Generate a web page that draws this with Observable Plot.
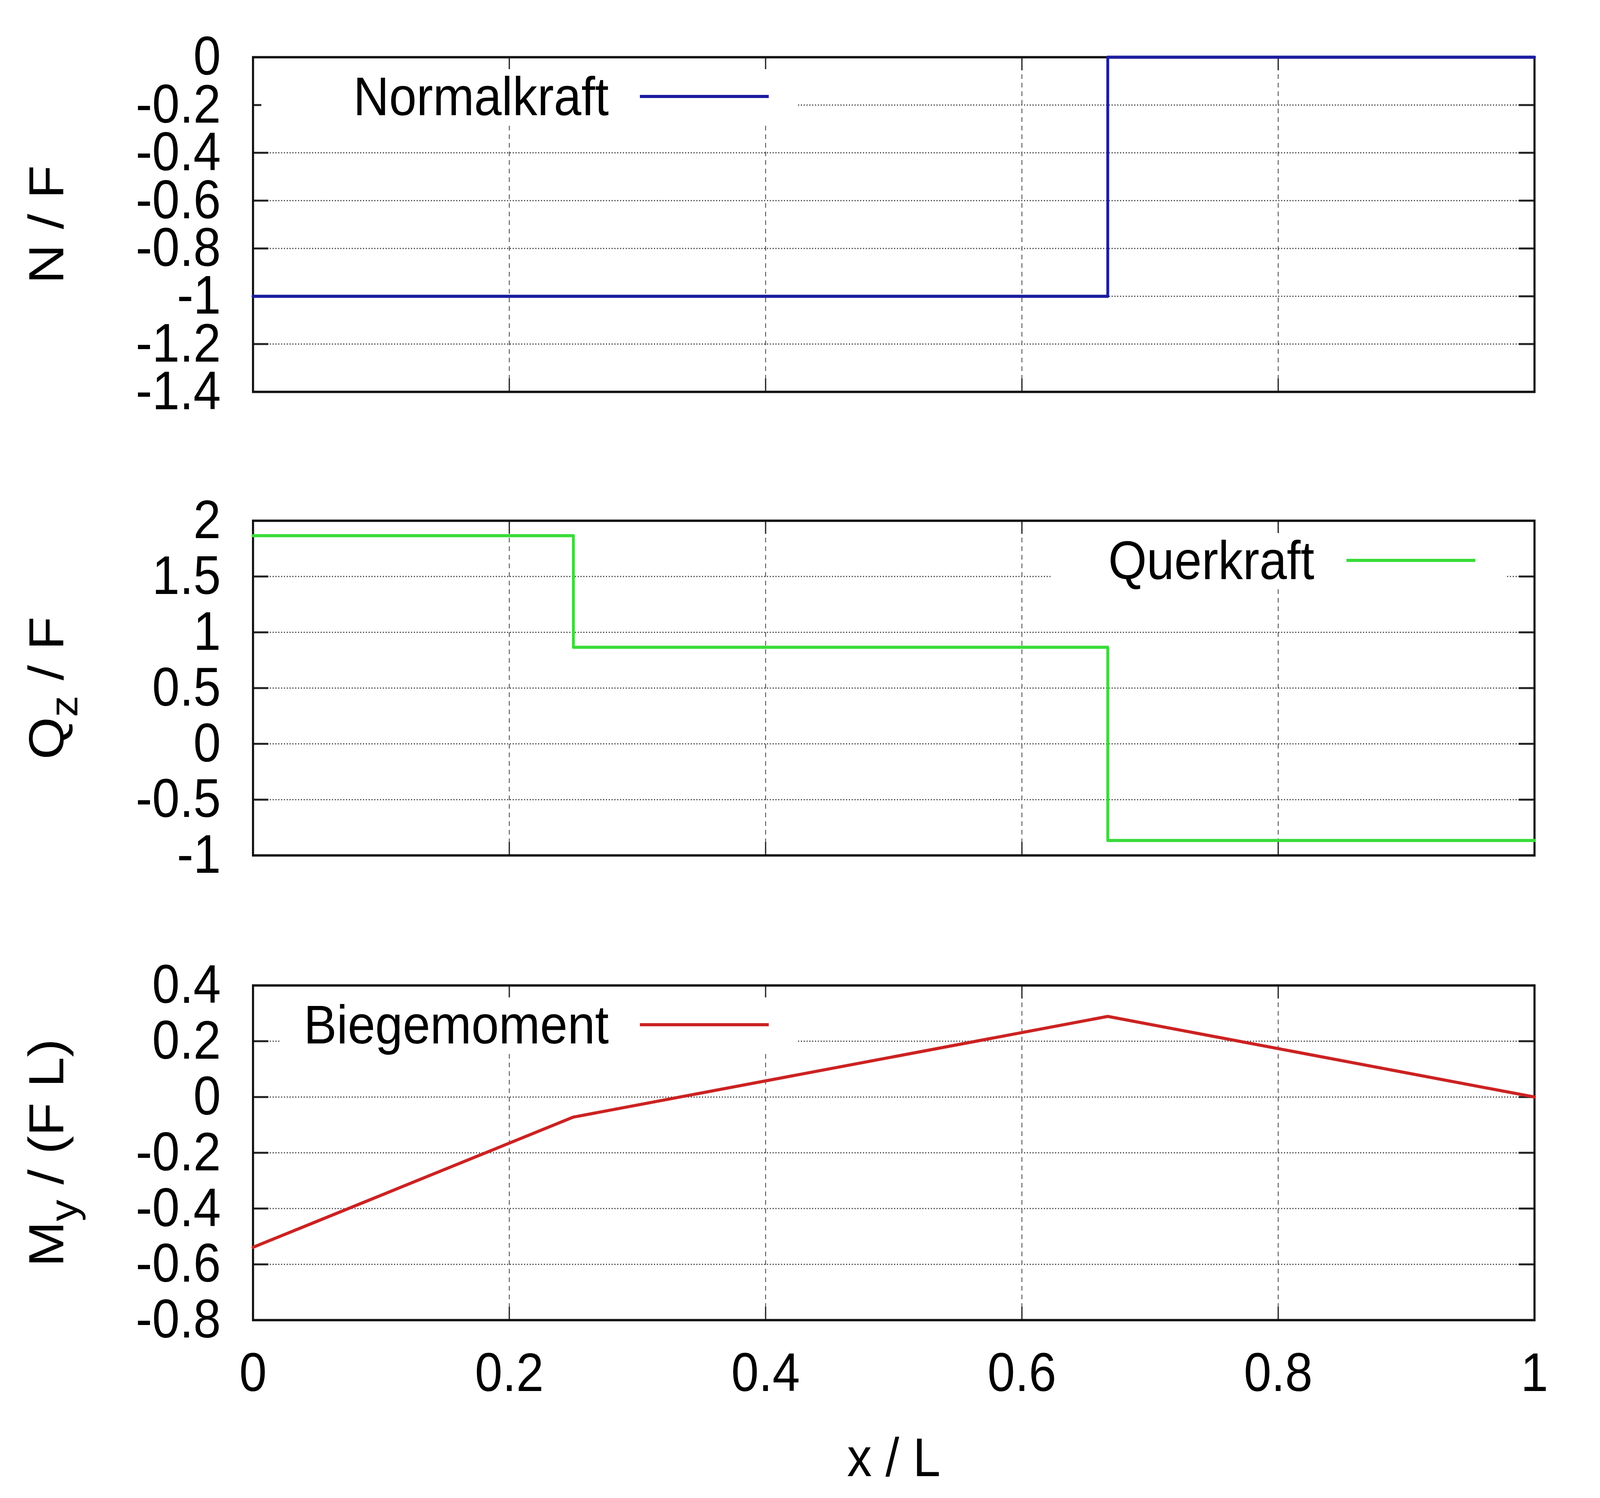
<!DOCTYPE html>
<html><head><meta charset="utf-8">
<script src="https://cdn.jsdelivr.net/npm/d3@7"></script>
<script src="https://cdn.jsdelivr.net/npm/@observablehq/plot@0.6"></script>
<style>
html,body{margin:0;padding:0;background:#fff;overflow:hidden;}
#wrap{position:relative;width:4531px;height:3836px;font-family:"Liberation Sans",Arial,sans-serif;transform-origin:0 0;}
.panel{position:absolute;left:0;}
.legend{position:absolute;background:#fff;height:140px;}
.legend .lt{position:absolute;top:0;font-size:140px;line-height:140px;white-space:nowrap;color:#000;}
.legend .ll{position:absolute;top:66px;height:8px;}
</style></head><body><div id="wrap"></div>
<script>
// ---- data ----
const xTicks = [0, 0.2, 0.4, 0.6, 0.8, 1];
const nX = [0, 0.667, 1];
const nY = [-1, 0, 0];
const nTicks = [0, -0.2, -0.4, -0.6, -0.8, -1, -1.2, -1.4];
const qX = [0, 0.25, 0.667, 1];
const qY = [1.866, 0.866, -0.866, -0.866];
const qTicks = [2, 1.5, 1, 0.5, 0, -0.5, -1];
const mX = [0, 0.25, 0.667, 1];
const mY = [-0.539, -0.072, 0.289, 0];
const mTicks = [0.4, 0.2, 0, -0.2, -0.4, -0.6, -0.8];
const seriesNames = ["Normalkraft", "Querkraft", "Biegemoment"];
const seriesColors = ["#1c1ca0", "#38dc38", "#cc2222"];
const yLabels = [
  {main: "N / F", sub: "", rest: ""},
  {main: "Q", sub: "z", rest: " / F"},
  {main: "M", sub: "y", rest: " / (F L)"}
];
const xLabel = "x / L";

// ---- layout ----
const W = 4531, H = 3836, ML = 716, MR = 186, FH = 857;
const FW = W - ML - MR;
const fmt = d => String(Math.round(d * 100) / 100 + 0);
const wrap = document.getElementById("wrap");
const sx = window.innerWidth / W, sy = window.innerHeight / H;
if (isFinite(sx) && isFinite(sy) && sx > 0 && sy > 0 && (Math.abs(sx - 1) > 0.002 || Math.abs(sy - 1) > 0.002)) {
  wrap.style.transform = `scale(${sx}, ${sy})`;
}

function panel(cfg) {
  const data = cfg.xs.map((x, i) => ({x, y: cfg.ys[i]}));
  const lab = cfg.label;
  const full = lab.main + lab.sub + lab.rest;
  const marks = [
    Plot.gridY(cfg.ticks, {stroke: "#333", strokeOpacity: 1, strokeWidth: 3, strokeDasharray: "3,5"}),
    Plot.gridX(xTicks, {stroke: "#555", strokeOpacity: 1, strokeWidth: 2.5, strokeDasharray: "12,10"}),
    Plot.ruleY(cfg.ticks, {insetRight: FW - 44, strokeWidth: 5, stroke: "#222"}),
    Plot.ruleY(cfg.ticks, {insetLeft: FW - 44, strokeWidth: 5, stroke: "#222"}),
    Plot.ruleX(xTicks, {insetTop: FH - 34, strokeWidth: 3.5, stroke: "#222"}),
    Plot.ruleX(xTicks, {insetBottom: FH - 34, strokeWidth: 3.5, stroke: "#222"}),
    Plot.frame({stroke: "#111", strokeWidth: 6}),
    Plot.line(data, {x: "x", y: "y", curve: cfg.curve, stroke: cfg.color, strokeWidth: 8}),
    Plot.axisY(cfg.ticks, {tickSize: 0, tickPadding: 91, fontSize: 140, label: null, tickFormat: fmt}),
    Plot.text([full], {text: d => d, frameAnchor: "left", textAnchor: "middle", dx: -582, rotate: -90, fontSize: 140, lineAnchor: "middle"})
  ];
  if (cfg.showX) {
    marks.push(Plot.axisX(xTicks, {tickSize: 0, tickPadding: 82, fontSize: 140, label: null, tickFormat: fmt}));
    marks.push(Plot.text([xLabel], {text: d => d, frameAnchor: "bottom", textAnchor: "middle", dy: 355, fontSize: 140, lineAnchor: "middle"}));
  }
  const svg = Plot.plot({
    width: W, height: cfg.height,
    marginLeft: ML, marginRight: MR, marginTop: cfg.mt, marginBottom: cfg.height - cfg.mt - FH,
    style: {fontFamily: "'Liberation Sans', Arial, sans-serif", fontSize: "140px", background: "white", overflow: "visible", maxWidth: "none"},
    x: {domain: [0, 1], axis: cfg.showX ? undefined : null},
    y: {domain: cfg.domain},
    marks
  });
  if (lab.sub) {
    d3.select(svg).selectAll("text").filter(function () { return this.textContent === full; }).each(function () {
      const t = d3.select(this);
      t.text(null);
      t.append("tspan").text(lab.main);
      t.append("tspan").attr("dy", 40).attr("font-size", 110).text(lab.sub);
      t.append("tspan").attr("dy", -40).text(lab.rest);
    });
  }
  const div = document.createElement("div");
  div.className = "panel";
  div.style.top = cfg.top + "px";
  div.appendChild(svg);
  wrap.appendChild(div);
}

panel({xs: nX, ys: nY, ticks: nTicks, domain: [-1.4, 0], color: seriesColors[0], curve: "step-after",
  label: yLabels[0], showX: false, top: 0, height: 1168, mt: 146});
panel({xs: qX, ys: qY, ticks: qTicks, domain: [-1, 2], color: seriesColors[1], curve: "step-after",
  label: yLabels[1], showX: false, top: 1168, height: 1190, mt: 165});
panel({xs: mX, ys: mY, ticks: mTicks, domain: [-0.8, 0.4], color: seriesColors[2], curve: "linear",
  label: yLabels[2], showX: true, top: 2358, height: 1478, mt: 165});

// ---- legends (HTML overlays) ----
function legend(name, color, boxL, boxR, cy, textEnd, lineL, lineR) {
  const box = document.createElement("div");
  box.className = "legend";
  box.style.left = boxL + "px";
  box.style.width = (boxR - boxL) + "px";
  box.style.top = (cy - 70) + "px";
  const t = document.createElement("span");
  t.className = "lt";
  t.textContent = name;
  t.style.right = (boxR - textEnd) + "px";
  const l = document.createElement("div");
  l.className = "ll";
  l.style.left = (lineL - boxL) + "px";
  l.style.width = (lineR - lineL) + "px";
  l.style.background = color;
  box.appendChild(t);
  box.appendChild(l);
  wrap.appendChild(box);
}
legend(seriesNames[0], seriesColors[0], 740, 2260, 247, 1724, 1812, 2177);
legend(seriesNames[1], seriesColors[1], 2975, 4263, 1435, 3722, 3813, 4178);
legend(seriesNames[2], seriesColors[2], 794, 2260, 2624, 1724, 1812, 2177);
</script></body></html>
